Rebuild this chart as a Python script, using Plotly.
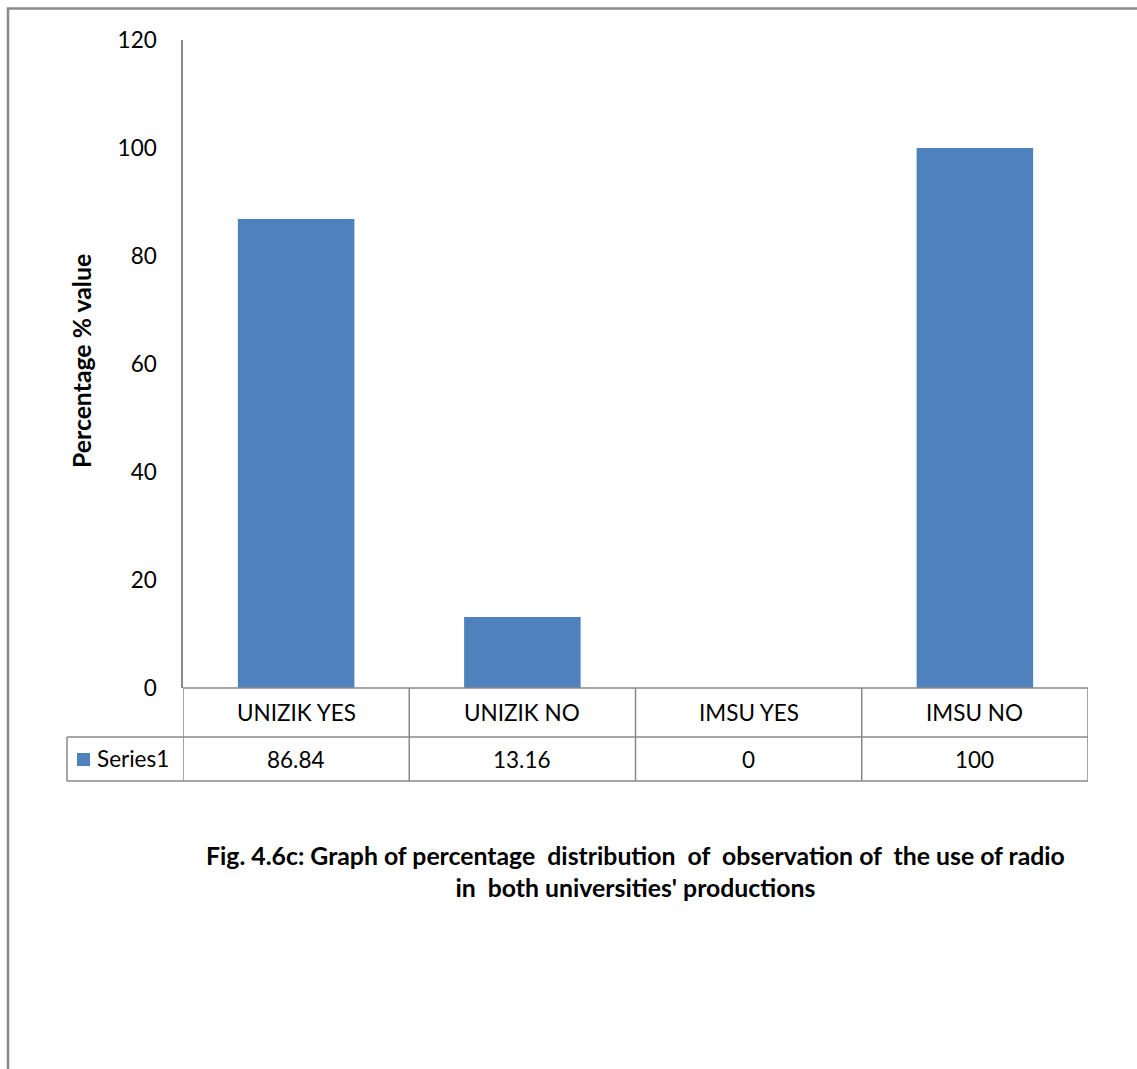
import plotly.graph_objects as go

# Observation data: use of radio in both universities' productions
categories = ["UNIZIK YES", "UNIZIK NO", "IMSU YES", "IMSU NO"]
series_name = "Series1"
values = [86.84, 13.16, 0, 100]
value_labels = ["86.84", "13.16", "0", "100"]
y_ticks = [0, 20, 40, 60, 80, 100, 120]

W, H = 1137, 1069
BAR_COLOR = "#4F81BD"
GRID = "#898989"
FONT = "Lato, Carlito, 'Open Sans', sans-serif"
TXT = 22.5
BOLD_TXT = 24.8


def px_x(p):
    return p / W


def px_y(p):
    return 1 - p / H


fig = go.Figure()
fig.add_trace(go.Bar(
    x=list(range(len(categories))),
    y=values,
    name=series_name,
    marker=dict(color=BAR_COLOR, line=dict(width=0)),
    width=0.515,
    showlegend=False,
))

plot_left, plot_right = 183, 1088
plot_top, plot_bottom = 40, 688
row1_bottom, row2_bottom = 737, 781
legend_left = 67

shapes = []
# outer frame of the page
shapes.append(dict(type="rect", xref="paper", yref="paper",
                   x0=px_x(8), x1=1.05, y0=-0.05, y1=px_y(8.5),
                   line=dict(color="#8A8A8A", width=2.5), layer="below"))

# data table: horizontal rules
line = dict(color=GRID, width=1.5)
shapes.append(dict(type="line", xref="paper", yref="paper",
                   x0=px_x(plot_left), x1=px_x(plot_right),
                   y0=px_y(plot_bottom), y1=px_y(plot_bottom), line=line))
for yy in (row1_bottom, row2_bottom):
    shapes.append(dict(type="line", xref="paper", yref="paper",
                       x0=px_x(legend_left), x1=px_x(plot_right),
                       y0=px_y(yy), y1=px_y(yy), line=line))
# vertical dividers at category boundaries
for i in range(len(categories) + 1):
    shapes.append(dict(type="line", xref="x", yref="paper",
                       x0=i - 0.5, x1=i - 0.5,
                       y0=px_y(row2_bottom), y1=px_y(plot_bottom), line=line))
shapes.append(dict(type="line", xref="paper", yref="paper",
                   x0=px_x(legend_left), x1=px_x(legend_left),
                   y0=px_y(row2_bottom), y1=px_y(row1_bottom), line=line))
# legend key in the table
shapes.append(dict(type="rect", xref="paper", yref="paper",
                   x0=px_x(77), x1=px_x(90), y0=px_y(766), y1=px_y(753),
                   fillcolor=BAR_COLOR, line=dict(width=0)))

annotations = []
row1_mid = (plot_bottom + row1_bottom) / 2
row2_mid = (row1_bottom + row2_bottom) / 2
for i, (cat, lab) in enumerate(zip(categories, value_labels)):
    annotations.append(dict(x=i, y=px_y(row1_mid), xref="x", yref="paper",
                            text=cat, showarrow=False,
                            font=dict(size=TXT, color="#000", family=FONT),
                            xanchor="center", yanchor="middle"))
    annotations.append(dict(x=i, y=px_y(row2_mid), xref="x", yref="paper",
                            text=lab, showarrow=False,
                            font=dict(size=TXT, color="#000", family=FONT),
                            xanchor="center", yanchor="middle"))
annotations.append(dict(x=px_x(95), y=px_y(row2_mid - 1), xref="paper", yref="paper",
                        text=series_name, showarrow=False,
                        font=dict(size=TXT, color="#000", family=FONT),
                        xanchor="left", yanchor="middle"))
# y-axis title
annotations.append(dict(x=px_x(82), y=px_y(361), xref="paper", yref="paper",
                        text="<b>Percentage % value</b>", showarrow=False,
                        textangle=-90,
                        font=dict(size=BOLD_TXT, color="#000", family=FONT),
                        xanchor="center", yanchor="middle"))
# caption
annotations.append(dict(x=px_x(635), y=px_y(871.5), xref="paper", yref="paper",
                        text="<b>Fig. 4.6c: Graph of percentage  distribution  of  observation of  the use of radio"
                             "<br>in  both universities' productions</b>",
                        showarrow=False, align="center",
                        font=dict(size=BOLD_TXT, color="#000", family=FONT),
                        xanchor="center", yanchor="middle"))

fig.update_layout(
    width=W, height=H,
    margin=dict(l=0, r=0, t=0, b=0, pad=0, autoexpand=False),
    paper_bgcolor="white", plot_bgcolor="white",
    font=dict(family=FONT, color="#000"),
    bargap=0.485,
    xaxis=dict(domain=[px_x(plot_left), px_x(plot_right)],
               range=[-0.5, len(categories) - 0.5],
               showticklabels=False, showgrid=False, zeroline=False,
               showline=False, ticks="", automargin=False),
    yaxis=dict(domain=[px_y(plot_bottom), px_y(plot_top)],
               range=[0, 120], tickvals=y_ticks,
               showgrid=False, zeroline=False, automargin=False,
               showline=True, linecolor=GRID, linewidth=1.5,
               ticks="", ticklabelstandoff=20,
               tickfont=dict(size=TXT, color="#000", family=FONT)),
    shapes=shapes,
    annotations=annotations,
)

fig.write_html("out.html")
